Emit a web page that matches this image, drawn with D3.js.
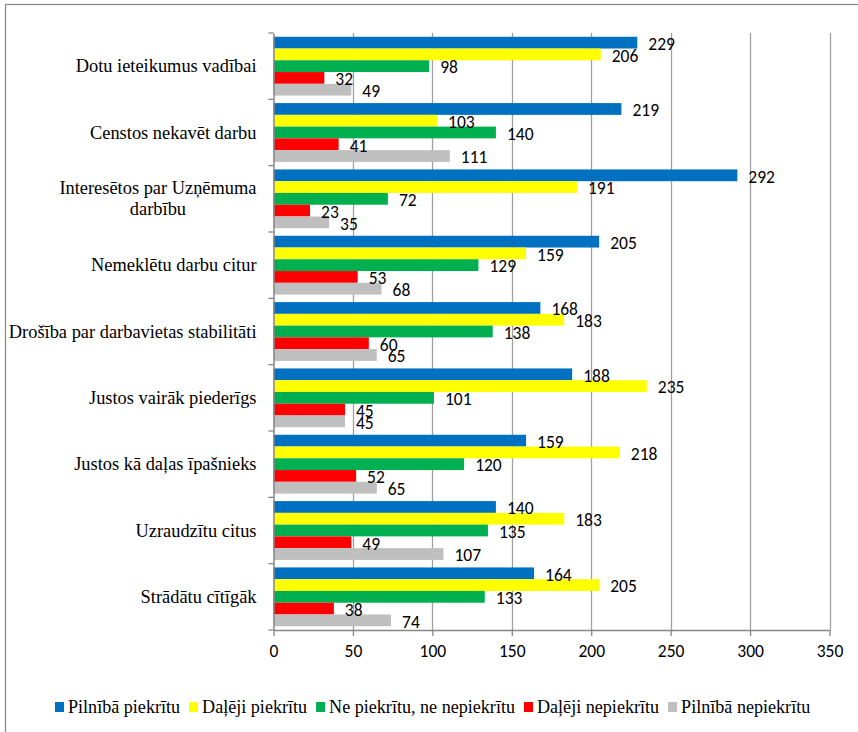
<!DOCTYPE html>
<html><head><meta charset="utf-8">
<script src="https://cdn.jsdelivr.net/npm/d3@7"></script>
</head><body style="margin:0"><svg id="c" width="858" height="732"></svg>
<script>
const categories = [
  "Dotu ieteikumus vadībai",
  "Censtos nekavēt darbu",
  "Interesētos par Uzņēmuma darbību",
  "Nemeklētu darbu citur",
  "Drošība par darbavietas stabilitāti",
  "Justos vairāk piederīgs",
  "Justos kā daļas īpašnieks",
  "Uzraudzītu citus",
  "Strādātu cītīgāk"
];
const seriesNames = ["Pilnībā piekrītu","Daļēji piekrītu","Ne piekrītu, ne nepiekrītu","Daļēji nepiekrītu","Pilnībā nepiekrītu"];
const pilnibaPiekritu   = [229,219,292,205,168,188,159,140,164];
const dalejiPiekritu    = [206,103,191,159,183,235,218,183,205];
const nePiekritu        = [98,140,72,129,138,101,120,135,133];
const dalejiNepiekritu  = [32,41,23,53,60,45,52,49,38];
const pilnibaNepiekritu = [49,111,35,68,65,45,65,107,74];
const xTicks = [0,50,100,150,200,250,300,350];
const colors = ["#0070C0","#FFFF00","#00B050","#FF0000","#BFBFBF"];
const seriesValues = [pilnibaPiekritu,dalejiPiekritu,nePiekritu,dalejiNepiekritu,pilnibaNepiekritu];

const serif = '"Liberation Serif"';
const num = '"Carlito"';
const serifSize = "18.4px";
const legendSize = "18.1px";
const numSize = "17.5px";

const svg = d3.select("#c");
svg.append("rect").attr("x",5.5).attr("y",4.5).attr("width",900).attr("height",800)
  .attr("fill","#fff").attr("stroke","#868686").attr("stroke-width",1.2);

const L=273.5, R=829.5, T=33, B=630;
const x = d3.scaleLinear().domain([0,350]).range([L,R]);
const y = d3.scaleBand().domain(categories).range([T,B]);
const inner = d3.scaleBand().domain(d3.range(5)).range([0,y.bandwidth()]).paddingOuter(0.32);

// category labels
const wrapMap = {"Interesētos par Uzņēmuma darbību":["Interesētos par Uzņēmuma","darbību"]};
const cl = svg.append("g");
categories.forEach(c=>{
  const lines = wrapMap[c] || [c];
  const cy = y(c)+y.bandwidth()/2;
  const lh = 21;
  const texts = lines.map((ln,k)=>cl.append("text")
    .attr("y",cy+(k-(lines.length-1)/2)*lh).attr("dy","0.33em")
    .style("font-family",serif).style("font-size",serifSize).attr("fill","#000").text(ln));
  const maxW = d3.max(texts.map(t=>t.node().getComputedTextLength()));
  const right = L-17;
  texts.forEach(t=>t.attr("x",right-maxW/2).attr("text-anchor","middle"));
});

// legend
const lg = svg.append("g");
let lx = 55;
seriesNames.forEach((n,s)=>{
  lg.append("rect").attr("x",lx).attr("y",702).attr("width",9).attr("height",10).attr("fill",colors[s]);
  const t = lg.append("text").attr("x",lx+13).attr("y",707).attr("dy","0.33em")
    .style("font-family",serif).style("font-size",legendSize).attr("fill","#000").text(n);
  lx += 13 + t.node().getComputedTextLength() + 9;
});

// gridlines
svg.append("g").selectAll("line").data(xTicks.slice(1)).join("line")
  .attr("x1",d=>Math.round(x(d))+0.5).attr("x2",d=>Math.round(x(d))+0.5)
  .attr("y1",T).attr("y2",B).attr("stroke","#a0a0a0").attr("stroke-width",1.3);

// bars
const grp = svg.append("g");
seriesValues.forEach((vals,s)=>{
  grp.selectAll(null).data(vals).join("rect")
    .attr("x",x(0)).attr("y",(d,i)=>y(categories[i])+inner(s))
    .attr("width",d=>x(d)-x(0)).attr("height",inner.bandwidth())
    .attr("fill",colors[s]);
});
// value labels
seriesValues.forEach((vals,s)=>{
  grp.selectAll(null).data(vals).join("text")
    .attr("x",d=>x(d)+11).attr("y",(d,i)=>y(categories[i])+inner(s)+inner.bandwidth()/2+1)
    .attr("dy","0.36em")
    .style("font-family",num).style("font-size",numSize)
    .attr("fill","#000").text(d=>d);
});

// x axis
const xa = svg.append("g").attr("transform",`translate(0,${B})`)
  .call(d3.axisBottom(x).tickValues(xTicks).tickSize(6).tickSizeOuter(0).tickPadding(9));
xa.select(".domain").attr("stroke","#868686").attr("stroke-width",1.5);
xa.selectAll(".tick line").attr("stroke","#868686").attr("stroke-width",1.3);
xa.selectAll("text").style("font-family",num).style("font-size",numSize).attr("fill","#000");

// y axis
const ya = svg.append("g").attr("transform",`translate(${L},0)`)
  .call(d3.axisLeft(y).tickSize(0).tickFormat(""));
ya.select(".domain").attr("stroke","#868686").attr("stroke-width",1.5);
svg.append("g").selectAll("line").data(d3.range(10)).join("line")
  .attr("x1",L-5).attr("x2",L).attr("y1",i=>T+i*y.step()).attr("y2",i=>T+i*y.step())
  .attr("stroke","#868686").attr("stroke-width",1.3);
</script></body></html>
